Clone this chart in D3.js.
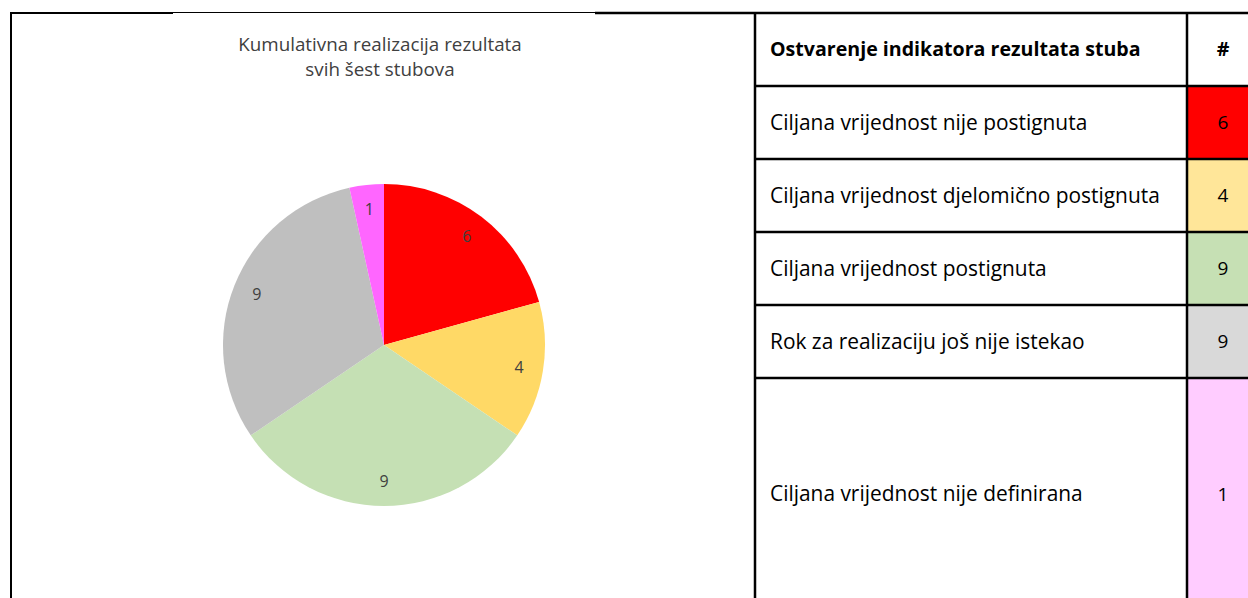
<!DOCTYPE html>
<html>
<head>
<meta charset="utf-8">
<script src="https://cdn.jsdelivr.net/npm/d3@7"></script>
<style>
  body { margin: 0; background: #fff; }
  svg { display: block; }
</style>
</head>
<body>
<script>
// data
var categories = [
  "Ciljana vrijednost nije postignuta",
  "Ciljana vrijednost djelomično postignuta",
  "Ciljana vrijednost postignuta",
  "Rok za realizaciju još nije istekao",
  "Ciljana vrijednost nije definirana"
];
var counts = [6, 4, 9, 9, 1];
var pieColors = ["#ff0000", "#ffd966", "#c5e0b4", "#bfbfbf", "#ff66ff"];
var cellColors = ["#ff0000", "#ffe699", "#c6e0b4", "#d9d9d9", "#ffccff"];
var titleLines = ["Kumulativna realizacija rezultata", "svih šest stubova"];
var headerLabels = ["Ostvarenje indikatora rezultata stuba", "#"];

var W = 1248, H = 598;
var font = "'Open Sans', sans-serif";

var svg = d3.select("body").append("svg")
            .attr("width", W)
            .attr("height", H);

// outer frame of the page
svg.append("line").attr("x1", 11).attr("y1", 12).attr("x2", 11).attr("y2", H)
   .attr("stroke", "#000").attr("stroke-width", 2);
svg.append("line").attr("x1", 10).attr("y1", 13).attr("x2", 173).attr("y2", 13)
   .attr("stroke", "#000").attr("stroke-width", 2);
svg.append("line").attr("x1", 173).attr("y1", 12.5).attr("x2", 595).attr("y2", 12.5)
   .attr("stroke", "#000").attr("stroke-width", 1);

// ---- pie chart ----
var cx = 384, cy = 345, r = 161;

var g = svg.append("g").attr("transform", "translate(" + cx + "," + cy + ")");

var pie = d3.pie().sort(null).value(function (d) { return d; });
var arc = d3.arc().innerRadius(0).outerRadius(r);
var labelArc = d3.arc().innerRadius(r * 0.85).outerRadius(r * 0.85);

var slices = g.selectAll("path")
              .data(pie(counts))
              .enter()
              .append("path")
              .attr("d", arc)
              .attr("fill", function (d, i) { return pieColors[i]; });

g.selectAll("text.lbl")
 .data(pie(counts))
 .enter()
 .append("text")
 .attr("class", "lbl")
 .attr("transform", function (d) { return "translate(" + labelArc.centroid(d) + ")"; })
 .attr("text-anchor", "middle")
 .attr("dy", "0.35em")
 .attr("font-family", font)
 .attr("font-size", 16)
 .attr("fill", "#404040")
 .text(function (d) { return d.data; });

svg.selectAll("text.title")
   .data(titleLines)
   .enter()
   .append("text")
   .attr("class", "title")
   .attr("x", 380)
   .attr("y", function (d, i) { return 51 + i * 25; })
   .attr("text-anchor", "middle")
   .attr("font-family", font)
   .attr("font-size", 18.8)
   .attr("fill", "#404040")
   .text(function (d) { return d; });

// ---- table ----
var colX = [755, 1187, 1260];
var rowY = [13, 86, 159, 232, 305, 378, 640];

var rows = svg.append("g");

// coloured count cells
rows.selectAll("rect.cell")
    .data(counts)
    .enter()
    .append("rect")
    .attr("class", "cell")
    .attr("x", colX[1])
    .attr("y", function (d, i) { return rowY[i + 1]; })
    .attr("width", colX[2] - colX[1])
    .attr("height", function (d, i) { return rowY[i + 2] - rowY[i + 1]; })
    .attr("fill", function (d, i) { return cellColors[i]; });

// grid lines
rows.selectAll("line.h")
    .data(rowY.slice(0, 6))
    .enter()
    .append("line")
    .attr("class", "h")
    .attr("x1", 595).attr("x2", W)
    .attr("y1", function (d) { return d; }).attr("y2", function (d) { return d; })
    .attr("stroke", "#000").attr("stroke-width", 2.5);
rows.selectAll("line.h").filter(function (d, i) { return i > 0; }).attr("x1", colX[0]);

rows.selectAll("line.v")
    .data(colX.slice(0, 2))
    .enter()
    .append("line")
    .attr("class", "v")
    .attr("x1", function (d) { return d; }).attr("x2", function (d) { return d; })
    .attr("y1", rowY[0]).attr("y2", H)
    .attr("stroke", "#000").attr("stroke-width", 2.5);

// header
rows.append("text")
    .attr("x", 770).attr("y", (rowY[0] + rowY[1]) / 2)
    .attr("dy", "0.35em")
    .attr("font-family", font).attr("font-size", 19.6).attr("font-weight", "bold")
    .attr("fill", "#000")
    .text(headerLabels[0]);
rows.append("text")
    .attr("x", 1223).attr("y", (rowY[0] + rowY[1]) / 2)
    .attr("dy", "0.35em")
    .attr("text-anchor", "middle")
    .attr("font-family", font).attr("font-size", 19.6).attr("font-weight", "bold")
    .attr("fill", "#000")
    .text(headerLabels[1]);

// body rows
rows.selectAll("text.cat")
    .data(categories)
    .enter()
    .append("text")
    .attr("class", "cat")
    .attr("x", 770)
    .attr("y", function (d, i) { return i < 4 ? (rowY[i + 1] + rowY[i + 2]) / 2 : 494; })
    .attr("dy", "0.35em")
    .attr("font-family", font).attr("font-size", 20.9)
    .attr("fill", "#000")
    .text(function (d) { return d; });

rows.selectAll("text.num")
    .data(counts)
    .enter()
    .append("text")
    .attr("class", "num")
    .attr("x", 1223)
    .attr("y", function (d, i) { return i < 4 ? (rowY[i + 1] + rowY[i + 2]) / 2 : 494; })
    .attr("dy", "0.35em")
    .attr("text-anchor", "middle")
    .attr("font-family", font).attr("font-size", 19)
    .attr("fill", "#000")
    .text(function (d) { return d; });
</script>
</body>
</html>
